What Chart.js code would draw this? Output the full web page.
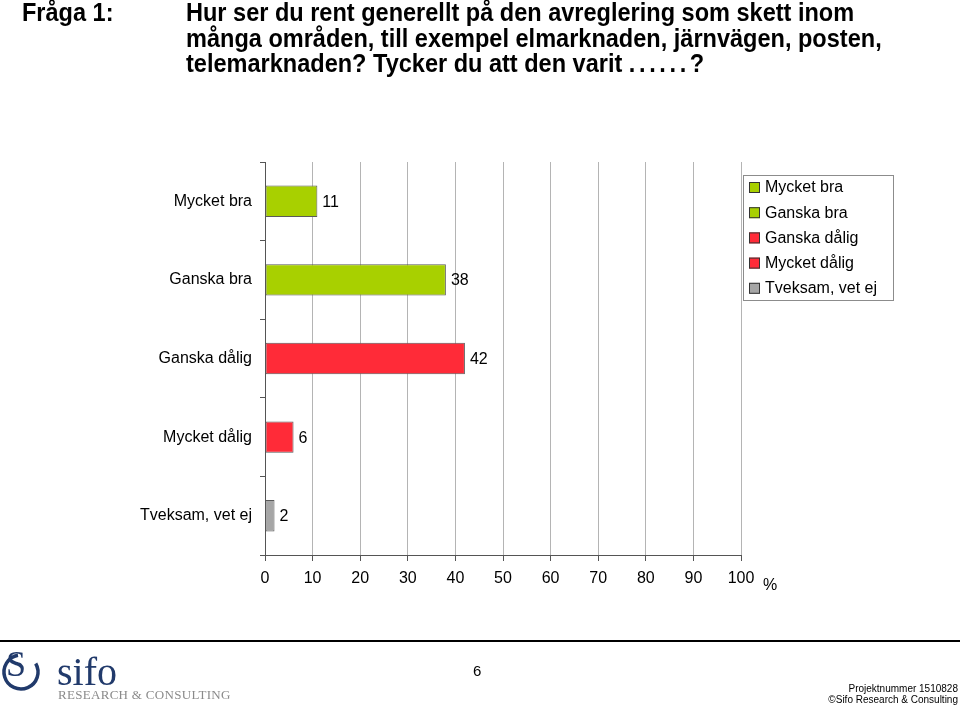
<!DOCTYPE html>
<html>
<head>
<meta charset="utf-8">
<script src="https://cdn.jsdelivr.net/npm/chart.js@4.4.0/dist/chart.umd.min.js"></script>
<style>
body { margin: 0; background: #fff; }
#page { position: relative; width: 960px; height: 705px; overflow: hidden; font-family: "Liberation Sans", Arial, sans-serif; }
#chart { position: absolute; left: 0; top: 0; }
.narrow { font-family: "Liberation Sans Narrow", "Arial Narrow", "Liberation Sans", Arial, sans-serif; font-weight: bold; font-size: 26px; line-height: 25.5px; color: #000; position: absolute; white-space: nowrap; transform: scaleX(0.905); transform-origin: 0 0; }
.dots { letter-spacing: 4px; }
#fraga { left: 22px; top: 0px; }
#question { left: 186px; top: 0px; }
#rule { position: absolute; left: 0; top: 640px; width: 960px; height: 2px; background: #000; }
#pagenr { position: absolute; left: 473px; top: 662px; font-size: 15px; }
#proj { position: absolute; right: 2px; top: 683px; font-family: "Liberation Sans Narrow", "Arial Narrow", sans-serif; font-size: 10px; line-height: 11px; text-align: right; }
#sifo { position: absolute; left: 57px; top: 648px; font-family: "Liberation Serif", "Times New Roman", serif; font-size: 40px; color: #213a6b; }
#rc { position: absolute; left: 58px; top: 687px; font-family: "Liberation Serif", "Times New Roman", serif; font-size: 13px; color: #8a8a8a; letter-spacing: 0.3px; }
#logo { position: absolute; left: 0px; top: 646px; }
</style>
</head>
<body>
<div id="page">
  <canvas id="chart" width="960" height="705"></canvas>
  <div id="fraga" class="narrow">Fråga 1:</div>
  <div id="question" class="narrow">Hur ser du rent generellt på den avreglering som skett inom<br>många områden, till exempel elmarknaden, järnvägen, posten,<br>telemarknaden? Tycker du att den varit <span class="dots">......</span>?</div>
  <div id="rule"></div>
  <svg id="logo" width="46" height="56" viewBox="0 0 46 56">
    <path d="M18 9.3 A17 17 0 1 0 35.7 17.5" fill="none" stroke="#213a6b" stroke-width="3.5"/>
    <text x="6" y="30" font-family="Liberation Serif, serif" font-size="36" fill="#213a6b">S</text>
  </svg>
  <div id="sifo">sifo</div>
  <div id="rc">RESEARCH &amp; CONSULTING</div>
  <div id="pagenr">6</div>
  <div id="proj">Projektnummer 1510828<br>©Sifo Research &amp; Consulting</div>
</div>
<script>
var categories = ["Mycket bra", "Ganska bra", "Ganska dålig", "Mycket dålig", "Tveksam, vet ej"];
var values = [11, 38, 42, 6, 2];
var barColors = ["#a8d000", "#a8d000", "#ff2b38", "#ff2b38", "#a6a6a6"];
var xTicks = [0, 10, 20, 30, 40, 50, 60, 70, 80, 90, 100];

var FONT = "Liberation Sans, Arial, sans-serif";

// value labels next to the bars, legend box and the % sign
var extras = {
	id: "extras",
	afterDatasetsDraw: function(chart) {
		var ctx = chart.ctx;
		var meta = chart.getDatasetMeta(0);
		ctx.save();
		ctx.font = "16px " + FONT;
		ctx.fillStyle = "#000";
		ctx.textBaseline = "middle";
		ctx.textAlign = "left";
		meta.data.forEach(function(bar, i) {
			ctx.fillText(String(values[i]), bar.x + 5, bar.y + 1);
		});

		// legend
		var lx = 743, ly = 175, lw = 150, lh = 125;
		ctx.strokeStyle = "#8c8c8c";
		ctx.lineWidth = 1;
		ctx.strokeRect(lx + 0.5, ly + 0.5, lw, lh);
		categories.forEach(function(c, i) {
			var cy = 188 + i * 25.2;
			ctx.fillStyle = barColors[i];
			ctx.fillRect(749, cy - 6, 11, 11);
			ctx.strokeStyle = "#333";
			ctx.strokeRect(749.5, cy - 5.5, 10, 10);
			ctx.fillStyle = "#000";
			ctx.fillText(c, 765, cy);
		});

		ctx.fillText("%", 763, 586);
		ctx.restore();
	}
};

new Chart(document.getElementById("chart").getContext("2d"), {
	type: "bar",
	data: {
		labels: categories,
		datasets: [{
			data: values,
			backgroundColor: barColors,
			borderColor: "#5a5a5a",
			borderWidth: 1,
			borderSkipped: false,
			barPercentage: 0.4,
			categoryPercentage: 1
		}]
	},
	options: {
		indexAxis: "y",
		responsive: false,
		animation: false,
		layout: { padding: { left: 0, right: 219, top: 162, bottom: 110 } },
		plugins: { legend: { display: false }, tooltip: { enabled: false } },
		scales: {
			x: {
				min: 0,
				max: 100,
				afterFit: function(s) { s.height = 40; },
				afterBuildTicks: function(s) { s.ticks = xTicks.map(function(v) { return { value: v }; }); },
				grid: { color: "#b4b4b4", tickColor: "#555", tickLength: 6, lineWidth: 1 },
				border: { color: "#555", width: 1 },
				ticks: { color: "#000", font: { family: FONT, size: 16 }, padding: 8, maxRotation: 0 }
			},
			y: {
				afterFit: function(s) { s.width = 265; },
				grid: { offset: true, drawOnChartArea: false, tickColor: "#555", tickLength: 5 },
				border: { color: "#555", width: 1 },
				ticks: { color: "#000", font: { family: FONT, size: 16 }, padding: 8 }
			}
		}
	},
	plugins: [extras]
});
</script>
</body>
</html>
